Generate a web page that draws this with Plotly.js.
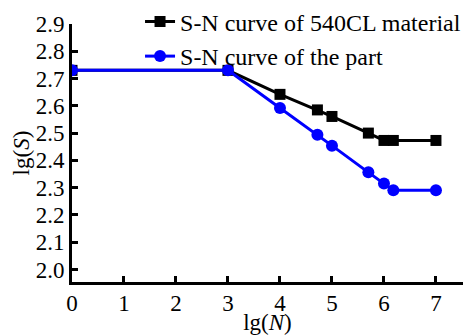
<!DOCTYPE html>
<html>
<head>
<meta charset="utf-8">
<script src="https://cdn.plot.ly/plotly-3.0.1.min.js"></script>
<style>html,body{margin:0;padding:0;background:#fff;}#chart{width:467px;height:335px;}</style>
</head>
<body>
<div id="chart"></div>
<script>
// lg(N) values and lg(S) values
const materialLgN = [0, 3, 4, 4.72, 5.0, 5.7, 6.0, 6.18, 7];
const materialLgS = [2.73, 2.73, 2.642, 2.585, 2.561, 2.5, 2.473, 2.473, 2.473];
const partLgN = [0, 3, 4, 4.72, 5.0, 5.7, 6.0, 6.18, 7];
const partLgS = [2.73, 2.73, 2.592, 2.494, 2.454, 2.356, 2.315, 2.29, 2.29];
const seriesNames = ["S-N curve of 540CL material", "S-N curve of the part"];
const xTicks = [0, 1, 2, 3, 4, 5, 6, 7];
const yTicks = [2.0, 2.1, 2.2, 2.3, 2.4, 2.5, 2.6, 2.7, 2.8, 2.9];

const FONT = "Liberation Serif";

const traces = [
  {
    x: materialLgN, y: materialLgS, name: seriesNames[0], type: "scatter", mode: "lines+markers",
    line: {color: "#000000", width: 3},
    marker: {symbol: "square", size: 11, color: "#000000"},
    legend: "legend"
  },
  {
    x: partLgN, y: partLgS, name: seriesNames[1], type: "scatter", mode: "lines+markers",
    line: {color: "#0000ff", width: 3},
    marker: {symbol: "circle", size: 12, color: "#0000ff"},
    legend: "legend2"
  }
];

const legendBase = {
  xanchor: "left", yanchor: "middle",
  bgcolor: "rgba(0,0,0,0)", borderwidth: 0,
  font: {family: FONT, size: 24, color: "#000"}
};

const layout = {
  width: 467, height: 335,
  margin: {l: 72, r: 4, t: 24, b: 53, pad: 0, autoexpand: false},
  paper_bgcolor: "#fff", plot_bgcolor: "#fff",
  font: {family: FONT, size: 23, color: "#000"},
  showlegend: true,
  legend: Object.assign({}, legendBase, {x: 0.174, y: 1.008}),
  legend2: Object.assign({}, legendBase, {x: 0.174, y: 0.874}),
  xaxis: {
    range: [0, 7.52], tickvals: xTicks, ticktext: xTicks.map(String),
    showgrid: false, zeroline: false, automargin: true,
    showline: true, linecolor: "#000", linewidth: 3,
    ticks: "inside", ticklen: 6, tickwidth: 3, tickcolor: "#000",
    tickfont: {family: FONT, size: 23}, ticklabelstandoff: -2,
    title: {text: "lg(<i>N</i>)", font: {family: FONT, size: 23}, standoff: 3}
  },
  yaxis: {
    range: [1.954, 2.9], tickvals: yTicks, ticktext: yTicks.map(v => v.toFixed(1)),
    showgrid: false, zeroline: false, automargin: false,
    showline: true, linecolor: "#000", linewidth: 3,
    ticks: "inside", ticklen: 6, tickwidth: 3, tickcolor: "#000",
    tickfont: {family: FONT, size: 23},
    title: {text: "lg(<i>S</i>)", font: {family: FONT, size: 23}, standoff: 0}
  }
};

Plotly.newPlot("chart", traces, layout, {staticPlot: true, displayModeBar: false});
</script>
</body>
</html>
